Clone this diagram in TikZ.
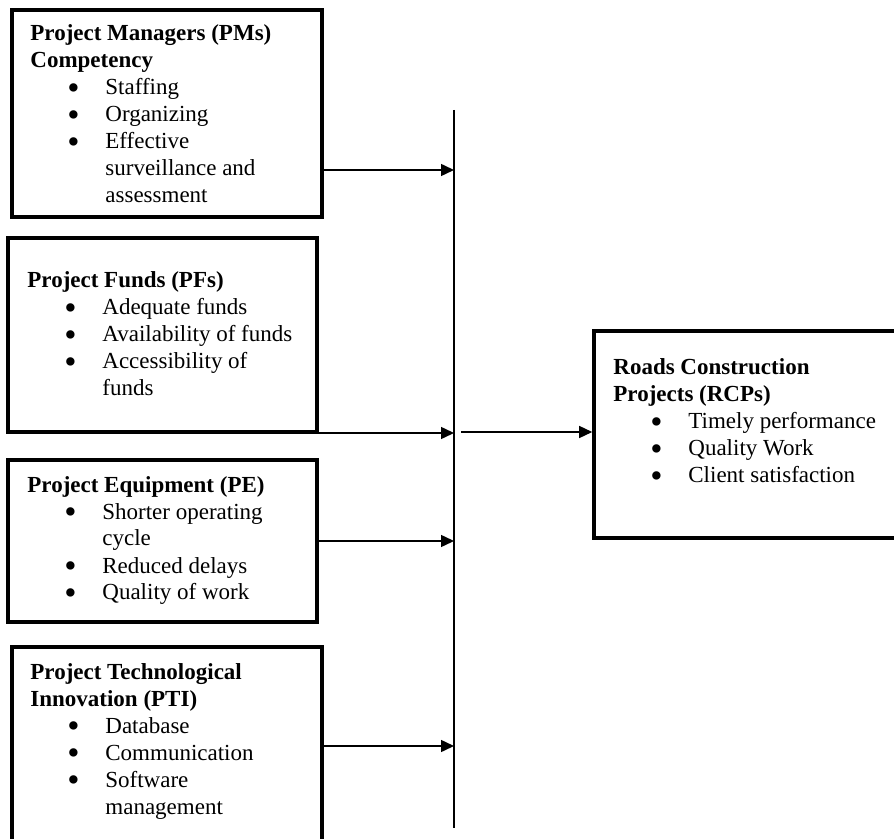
\documentclass[tikz,border=0pt]{standalone}
\usepackage{fontspec}
\setmainfont{Liberation Serif}
\usetikzlibrary{arrows.meta,fit}

% bullet line and its continuation line inside a panel
\newcommand\bigbullet{\smash{\raisebox{-2.1pt}{\fontsize{17.5pt}{0pt}\selectfont\textbullet}}}
\newcommand\bitem[1]{\\\hspace*{18.5pt}\makebox[19pt][l]{\bigbullet}#1}
\newcommand\bcont[1]{\\\hspace*{37.5pt}#1}
\newcommand\paneltext[1]{\parbox[t]{170pt}{\raggedright\fontsize{11.5pt}{13.5pt}\selectfont #1}}

\begin{document}
\begin{tikzpicture}[x=0.5pt,y=-0.5pt,
  panel/.style={draw=black, line width=1.8pt, inner sep=0pt},
  paneltxt/.style={inner sep=0pt, anchor=base west},
  link/.style={line width=0.75pt, -{Triangle[length=6.5pt,width=6pt]}},
  bus/.style={line width=0.7pt}]
\useasboundingbox (0,0) rectangle (894,839);
\clip (0,0) rectangle (894,839);
\fill[white] (0,0) rectangle (894,839);

% input panels
\node[panel, fit={(12,10) (322,217)}] (pm) {};
\node[panel, fit={(8,238) (317,432)}] (pf) {};
\node[panel, fit={(8,460) (317,622)}] (pe) {};
\node[panel, fit={(12,647) (322,870)}] (pti) {};
% outcome panel
\node[panel, fit={(594,331) (910,538)}] (rcp) {};

% panel contents
\node[paneltxt] (pmtxt) at (30,41) {\paneltext{\textbf{Project Managers (PMs)}\\\textbf{Competency}
  \bitem{Staffing}\bitem{Organizing}\bitem{Effective}\bcont{surveillance and}\bcont{assessment}}};
\node[paneltxt] (pftxt) at (27,288) {\paneltext{\textbf{Project Funds (PFs)}
  \bitem{Adequate funds}\bitem{Availability of funds}\bitem{Accessibility of}\bcont{funds}}};
\node[paneltxt] (petxt) at (27,492) {\paneltext{\textbf{Project Equipment (PE)}
  \bitem{Shorter operating}\bcont{cycle}\bitem{Reduced delays}\bitem{Quality of work}}};
\node[paneltxt] (ptitxt) at (30,679) {\paneltext{\textbf{Project Technological}\\\textbf{Innovation (PTI)}
  \bitem{Database}\bitem{Communication}\bitem{Software}\bcont{management}}};
\node[paneltxt] (rcptxt) at (613,375) {\paneltext{\textbf{Roads Construction}\\\textbf{Projects (RCPs)}
  \bitem{Timely performance}\bitem{Quality Work}\bitem{Client satisfaction}}};

% collecting line
\coordinate (bustop) at (454,110);
\coordinate (busbot) at (454,828);
\draw[bus] (bustop) -- (busbot);

% junction points on the collecting line
\coordinate (j1) at (454,170);
\coordinate (j2) at (454,433);
\coordinate (j3) at (454,541);
\coordinate (j4) at (454,746);
\coordinate (j5) at (461,432);

\draw[link] (j1 -| pm.east) -- (j1);
\draw[link] (j2 -| pf.east) -- (j2);
\draw[link] (j3 -| pe.east) -- (j3);
\draw[link] (j4 -| pti.east) -- (j4);
\draw[link] (j5) -- (j5 -| rcp.west);
\end{tikzpicture}
\end{document}
